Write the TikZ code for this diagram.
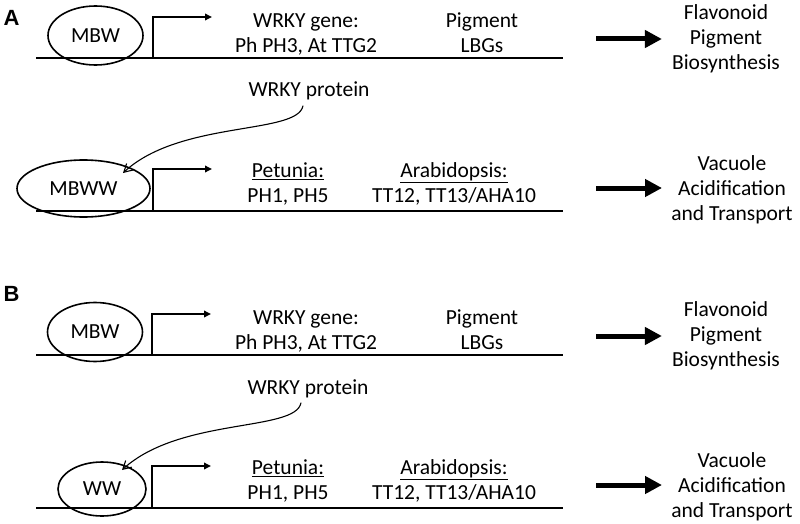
\documentclass[tikz,border=0pt]{standalone}
\usepackage{fontspec}
\setmainfont{Carlito}
\newfontfamily\panelfont{Liberation Sans}
\usetikzlibrary{arrows.meta}
\usetikzlibrary{shapes.geometric}
\usetikzlibrary{calc}

\begin{document}
\begin{tikzpicture}[x=1pt,y=-1pt,
        dna/.style={line width=2.2pt},
        promoter/.style={line width=1.8pt,-{Triangle[length=7pt,width=6.5pt]}},
        complex/.style={draw,ellipse,line width=1.6pt,inner sep=0pt,font=\fontsize{21.5}{25}\selectfont},
        lbl/.style={align=center,inner sep=0pt,font=\fontsize{21.5}{25}\selectfont},
        outcome/.style={line width=5pt,-{Triangle[length=17pt,width=17pt]}},
        bind/.style={line width=1.1pt,-{Straight Barb[length=8pt,width=9pt]}},
        panel/.style={inner sep=0pt,font=\panelfont\bfseries\fontsize{22}{26}\selectfont}]
        \useasboundingbox (0,0) rectangle (800,524);

        % panel A
        \node[panel] (labA) at (11.5,17.5) {A};

        \draw[dna] (36,58) -- (563,58);
        \node[complex,minimum width=95pt,minimum height=59pt] (mbwA) at (95.5,35.5) {MBW};
        \draw[promoter] (153,58) |- (212,17);
        \node[lbl] (geneA) at (306,34) {WRKY gene:\\Ph PH3, At TTG2};
        \node[lbl] (lbgA) at (482,33) {Pigment\\LBGs};
        \node[lbl] (flaA) at (726,39) {Flavonoid\\Pigment\\Biosynthesis};
        \coordinate (outA) at (596,39);
        \draw[outcome] (outA) -- ([xshift=-10pt]flaA.west);

        \node[lbl,anchor=base] (protA) at (309,97) {WRKY protein};

        \draw[dna] (36,211) -- (563,211);
        \node[complex,minimum width=133pt,minimum height=57pt] (mbwwA) at (83.5,188.5) {MBWW};
        \draw[promoter] (153,211) |- (212,169);
        \node[lbl] (petA) at (288,184) {\underline{Petunia:}\\PH1, PH5};
        \node[lbl] (araA) at (454,184) {\underline{Arabidopsis:}\\TT12, TT13/AHA10};
        \node[lbl] (vacA) at (732,190) {Vacuole\\Acidification\\and Transport};
        \coordinate (outA2) at (596,188);
        \draw[outcome] (outA2) -- (662,188);

        \coordinate (dockA) at (123,173);
        \draw[bind] ($(protA.south)+(-6,5)$) .. controls (298,135) and (180,120) .. (dockA);

        % panel B
        \begin{scope}[shift={(0,297)}]
            \node[panel] (labB) at (11.5,-3.5) {B};

            \draw[dna] (36,58) -- (563,58);
            \node[complex,minimum width=95pt,minimum height=59pt] (mbwB) at (95,35) {MBW};
            \draw[promoter] (152,58) |- (211,17);
            \node[lbl] (geneB) at (306,34) {WRKY gene:\\Ph PH3, At TTG2};
            \node[lbl] (lbgB) at (482,33) {Pigment\\LBGs};
            \node[lbl] (flaB) at (726,39) {Flavonoid\\Pigment\\Biosynthesis};
            \coordinate (outB) at (596,39);
            \draw[outcome] (outB) -- ([xshift=-10pt]flaB.west);

            \node[lbl,anchor=base] (protB) at (308,97) {WRKY protein};

            \draw[dna] (36,211) -- (563,211);
            \node[complex,minimum width=88pt,minimum height=54pt] (wwB) at (102,192) {WW};
            \draw[promoter] (152,211) |- (211,169);
            \node[lbl] (petB) at (288,184) {\underline{Petunia:}\\PH1, PH5};
            \node[lbl] (araB) at (454,184) {\underline{Arabidopsis:}\\TT12, TT13/AHA10};
            \node[lbl] (vacB) at (732,190) {Vacuole\\Acidification\\and Transport};
            \coordinate (outB2) at (596,188);
            \draw[outcome] (outB2) -- (662,188);

            \coordinate (dockB) at (122,173);
            \draw[bind] ($(protB.south)+(-7,5)$) .. controls (296,135) and (180,120) .. (dockB);
        \end{scope}
\end{tikzpicture}
\end{document}
